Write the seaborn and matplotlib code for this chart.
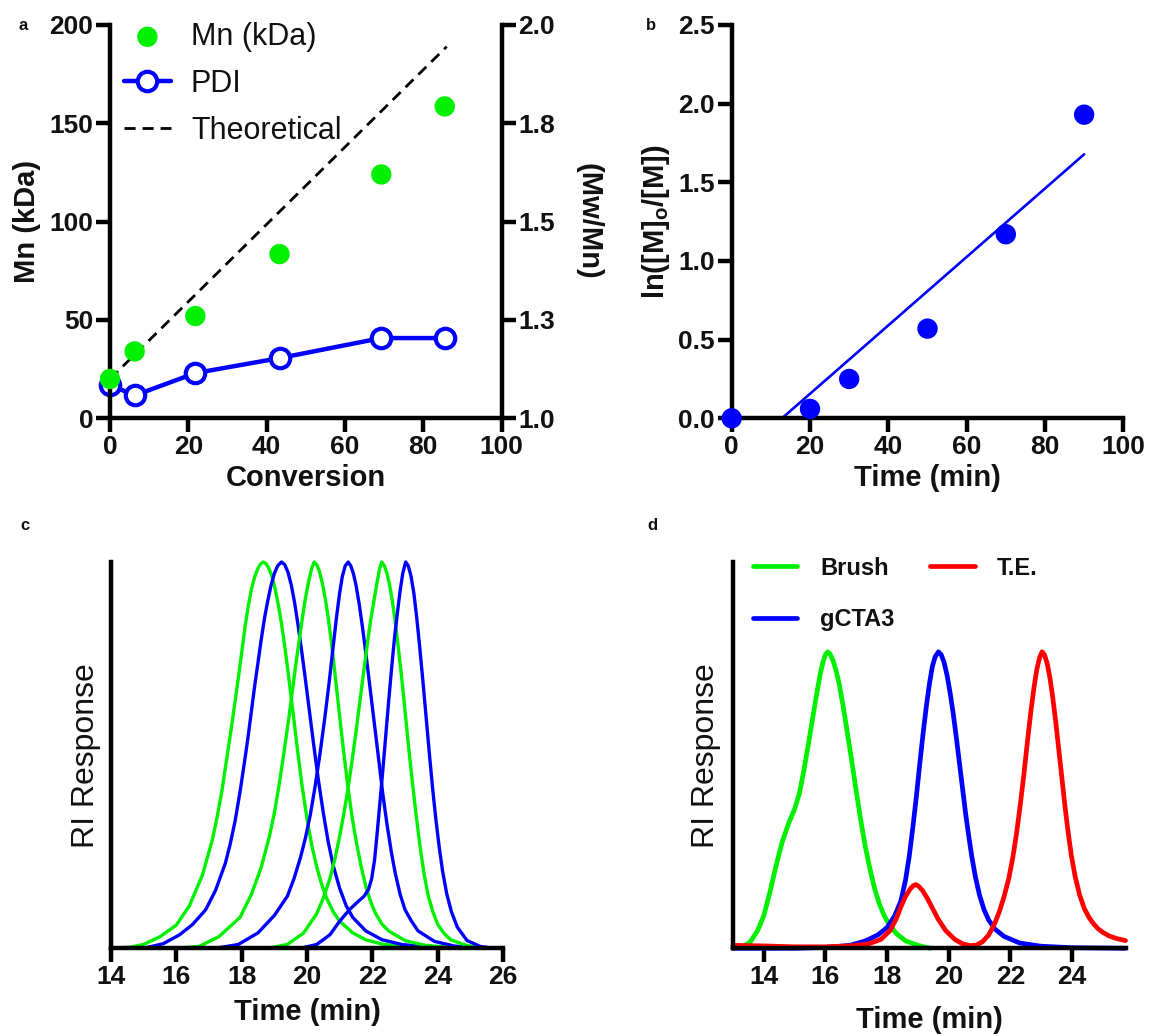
import numpy as np
import pandas as pd
import matplotlib
matplotlib.use("Agg")
import matplotlib.pyplot as plt
import seaborn as sns

# ---------------- data ----------------
# panel a
conversion = [0, 6.3, 21.8, 43.3, 69.3, 85.5]
mn_kda = [20, 34, 52, 83.5, 124, 158.6]
pdi = [1.085, 1.058, 1.115, 1.153, 1.204, 1.204]
theo_conversion = [0, 86]
theo_mn = [20, 189]
mn_ticks = [0, 50, 100, 150, 200]
pdi_ticks = [1.0, 1.25, 1.5, 1.75, 2.0]
pdi_ticklabels = ["1.0", "1.3", "1.5", "1.8", "2.0"]
conv_ticks = [0, 20, 40, 60, 80, 100]

# panel b
kin_time = [0, 20, 30, 50, 70, 90]
ln_m0_m = [0, 0.06, 0.25, 0.57, 1.17, 1.93]
lnm_ticks = [0.0, 0.5, 1.0, 1.5, 2.0, 2.5]

# panel c (GPC traces, normalised RI response)
c_g1_t = [14.0, 14.6, 15.0, 15.5, 16.0, 16.4, 16.8, 17.1, 17.25, 17.4, 17.55, 17.7, 17.85, 18.0, 18.1,
          18.2, 18.3, 18.4, 18.5, 18.58, 18.66, 18.74, 18.82, 18.92, 19.02, 19.12, 19.22, 19.33, 19.45,
          19.58, 19.7, 19.85, 20.0, 20.15, 20.3, 20.45, 20.6, 20.8, 21.0, 21.4, 21.8, 22.3, 22.8, 23.5,
          24.3, 26.0]
c_g1_v = [0.0, 0.003, 0.01, 0.03, 0.06, 0.11, 0.19, 0.28, 0.34, 0.41, 0.495, 0.58, 0.67, 0.765, 0.83,
          0.885, 0.93, 0.962, 0.984, 0.995, 1.0, 0.996, 0.986, 0.965, 0.932, 0.89, 0.84, 0.775, 0.695,
          0.605, 0.52, 0.42, 0.335, 0.265, 0.21, 0.165, 0.13, 0.095, 0.07, 0.04, 0.022, 0.011, 0.005, 0.002,
          0.0, 0.0]
c_b2_t = [14.0, 15.0, 15.6, 16.1, 16.5, 16.9, 17.2, 17.5, 17.65, 17.8, 17.95, 18.1, 18.2, 18.3, 18.4,
          18.5, 18.6, 18.7, 18.8, 18.9, 19.0, 19.1, 19.22, 19.32, 19.42, 19.52, 19.62, 19.72, 19.82, 19.93,
          20.05, 20.2, 20.35, 20.5, 20.65, 20.8, 21.0, 21.2, 21.4, 21.8, 22.3, 22.9, 23.6, 24.5, 26.0]
c_b2_v = [0.0, 0.0, 0.012, 0.035, 0.062, 0.10, 0.15, 0.22, 0.27, 0.33, 0.405, 0.49, 0.55, 0.615, 0.68,
          0.74, 0.80, 0.855, 0.90, 0.94, 0.97, 0.99, 1.0, 0.993, 0.973, 0.94, 0.895, 0.84, 0.78, 0.71,
          0.63, 0.53, 0.435, 0.35, 0.275, 0.215, 0.155, 0.11, 0.08, 0.045, 0.022, 0.01, 0.004, 0.0, 0.0]
c_g3_t = [14.0, 16.0, 16.7, 17.3, 17.95, 18.3, 18.6, 18.85, 19.0, 19.15, 19.3, 19.45, 19.55, 19.65,
          19.75, 19.85, 19.95, 20.05, 20.14, 20.22, 20.3, 20.38, 20.47, 20.56, 20.65, 20.75, 20.87, 21.0,
          21.12, 21.25, 21.38, 21.5, 21.65, 21.8, 21.95, 22.1, 22.3, 22.5, 23.0, 23.6, 24.4, 26.0]
c_g3_v = [0.0, 0.0, 0.005, 0.03, 0.08, 0.14, 0.21, 0.29, 0.35, 0.425, 0.51, 0.60, 0.665, 0.73,
          0.79, 0.85, 0.905, 0.95, 0.982, 1.0, 0.993, 0.976, 0.945, 0.905, 0.855, 0.79, 0.70, 0.60,
          0.51, 0.42, 0.34, 0.28, 0.215, 0.16, 0.12, 0.09, 0.062, 0.045, 0.02, 0.008, 0.002, 0.0]
c_b4_t = [14.0, 17.2, 17.9, 18.5, 19.0, 19.4, 19.6, 19.8, 19.95, 20.1, 20.25, 20.4, 20.55, 20.68, 20.8,
          20.9, 21.0, 21.08, 21.17, 21.26, 21.34, 21.42, 21.5, 21.6, 21.7, 21.8, 21.9, 22.0, 22.1, 22.2,
          22.32, 22.45, 22.58, 22.7, 22.85, 23.0, 23.2, 23.4, 23.9, 24.5, 25.2, 26.0]
c_b4_v = [0.0, 0.0, 0.01, 0.04, 0.085, 0.135, 0.18, 0.235, 0.285, 0.345, 0.42, 0.505, 0.60, 0.69, 0.78,
          0.855, 0.92, 0.962, 0.99, 1.0, 0.99, 0.97, 0.94, 0.89, 0.83, 0.765, 0.695, 0.625, 0.555, 0.485,
          0.40, 0.32, 0.25, 0.195, 0.14, 0.10, 0.07, 0.045, 0.018, 0.006, 0.0, 0.0]
c_g5_t = [14.0, 18.8, 19.4, 19.9, 20.3, 20.5, 20.7, 20.85, 21.0, 21.12, 21.25, 21.37, 21.5, 21.62, 21.75,
          21.85, 21.95, 22.05, 22.14, 22.22, 22.29, 22.37, 22.45, 22.53, 22.62, 22.71, 22.8, 22.9, 23.0,
          23.1, 23.2, 23.32, 23.45, 23.58, 23.7, 23.85, 24.0, 24.2, 24.4, 24.9, 25.5, 26.0]
c_g5_v = [0.0, 0.0, 0.01, 0.04, 0.09, 0.13, 0.18, 0.23, 0.29, 0.345, 0.41, 0.48, 0.56, 0.64, 0.725,
          0.79, 0.85, 0.9, 0.945, 0.982, 1.0, 0.99, 0.97, 0.94, 0.895, 0.84, 0.775, 0.70, 0.615,
          0.53, 0.45, 0.36, 0.27, 0.195, 0.14, 0.095, 0.062, 0.038, 0.022, 0.007, 0.0, 0.0]
c_b6_t = [14.0, 19.8, 20.3, 20.7, 21.0, 21.3, 21.55, 21.75, 21.88, 21.98, 22.07, 22.15, 22.23, 22.32,
          22.41, 22.5, 22.59, 22.68, 22.77, 22.85, 22.93, 23.02, 23.1, 23.18, 23.27, 23.36, 23.45, 23.55,
          23.65, 23.75, 23.85, 23.95, 24.05, 24.15, 24.28, 24.42, 24.6, 24.9, 25.3, 25.7, 26.0]
c_b6_v = [0.0, 0.0, 0.01, 0.035, 0.07, 0.10, 0.12, 0.135, 0.152, 0.18, 0.23, 0.30, 0.375, 0.46,
          0.55, 0.64, 0.725, 0.805, 0.87, 0.925, 0.97, 1.0, 0.99, 0.965, 0.92, 0.855, 0.78, 0.69,
          0.595, 0.50, 0.41, 0.33, 0.26, 0.20, 0.14, 0.095, 0.055, 0.02, 0.005, 0.0, 0.0]
c_ticks = [14, 16, 18, 20, 22, 24, 26]

# panel d
brush_t = [13.0, 13.3, 13.55, 13.8, 14.0, 14.2, 14.4, 14.6, 14.8, 15.0, 15.15, 15.3, 15.45, 15.6, 15.72,
           15.83, 15.92, 16.0, 16.07, 16.15, 16.25, 16.35, 16.45, 16.57, 16.7, 16.85, 17.0, 17.15, 17.3,
           17.45, 17.6, 17.75, 17.9, 18.05, 18.3, 18.6, 19.0, 19.4]
brush_v = [0.0, 0.005, 0.02, 0.06, 0.11, 0.19, 0.28, 0.36, 0.42, 0.47, 0.52, 0.60, 0.69, 0.785, 0.86,
           0.925, 0.965, 0.99, 1.0, 0.993, 0.97, 0.935, 0.89, 0.82, 0.735, 0.635, 0.53, 0.43, 0.34,
           0.265, 0.20, 0.15, 0.112, 0.083, 0.05, 0.025, 0.01, 0.0]
gcta3_t = [13.0, 15.0, 16.0, 16.8, 17.3, 17.7, 18.0, 18.25, 18.45, 18.6, 18.72, 18.84, 18.95, 19.06, 19.17,
           19.28, 19.38, 19.47, 19.56, 19.67, 19.76, 19.85, 19.95, 20.05, 20.15, 20.25, 20.35, 20.45, 20.55,
           20.65, 20.75, 20.87, 21.0, 21.15, 21.3, 21.5, 21.8, 22.3, 23.0, 24.0, 25.74]
gcta3_v = [0.0, 0.0, 0.003, 0.01, 0.025, 0.045, 0.07, 0.11, 0.16, 0.23, 0.31, 0.41, 0.51, 0.62, 0.725,
           0.82, 0.895, 0.95, 0.983, 1.0, 0.99, 0.965, 0.92, 0.86, 0.79, 0.71, 0.625, 0.54, 0.455,
           0.38, 0.31, 0.24, 0.18, 0.13, 0.095, 0.065, 0.04, 0.018, 0.007, 0.002, 0.0]
te_t = [13.0, 14.0, 15.0, 16.0, 16.8, 17.4, 17.8, 18.1, 18.3, 18.45, 18.6, 18.75, 18.85, 18.93, 19.02,
        19.15, 19.3, 19.45, 19.65, 19.9, 20.2, 20.45, 20.7, 20.9, 21.1, 21.3, 21.5, 21.65, 21.8, 21.95,
        22.08, 22.2, 22.32, 22.44, 22.56, 22.67, 22.77, 22.86, 22.95, 23.03, 23.11, 23.2, 23.29, 23.38,
        23.48, 23.58, 23.68, 23.78, 23.88, 23.98, 24.1, 24.25, 24.4, 24.55, 24.7, 24.85, 25.0, 25.2,
        25.45, 25.74]
te_v = [0.01, 0.008, 0.005, 0.005, 0.008, 0.015, 0.03, 0.06, 0.10, 0.14, 0.175, 0.20, 0.211, 0.215, 0.21,
        0.195, 0.17, 0.14, 0.10, 0.06, 0.03, 0.015, 0.009, 0.011, 0.022, 0.045, 0.085, 0.125, 0.175, 0.235,
        0.305, 0.385, 0.48, 0.585, 0.70, 0.80, 0.88, 0.94, 0.98, 1.0, 0.99, 0.96, 0.91, 0.845,
        0.76, 0.665, 0.57, 0.475, 0.39, 0.315, 0.245, 0.18, 0.135, 0.105, 0.083, 0.066, 0.054, 0.042,
        0.033, 0.026]
d_ticks = [14, 16, 18, 20, 22, 24]

# ---------------- style ----------------
GREEN = "#00F000"
BLUE = "#0000FF"
RED = "#FF0000"
INK = "#111111"

sns.set_style("ticks")
plt.rcParams["font.family"] = ["Liberation Sans", "DejaVu Sans"]
plt.rcParams["font.weight"] = "bold"
plt.rcParams["axes.labelweight"] = "bold"
plt.rcParams["mathtext.fontset"] = "custom"
plt.rcParams["mathtext.rm"] = "Liberation Sans:bold"
plt.rcParams["mathtext.default"] = "rm"
plt.rcParams["axes.linewidth"] = 3.2
plt.rcParams["axes.edgecolor"] = "black"
plt.rcParams["text.color"] = INK
plt.rcParams["axes.labelcolor"] = INK

TICK_FS = 19
LAB_FS = 21

fig = plt.figure(figsize=(11.5, 10.36), dpi=100)
W, H = 1150.0, 1036.0


def px_axes(left, top, right, bottom):
    return fig.add_axes([left / W, 1 - bottom / H, (right - left) / W, (bottom - top) / H])


def style_ticks(ax):
    ax.tick_params(axis="both", which="major", direction="out", length=10, width=3.2,
                   labelsize=TICK_FS, pad=2, colors="black", labelcolor=INK)
    for lab in ax.get_xticklabels() + ax.get_yticklabels():
        lab.set_fontweight("bold")


ax_a = px_axes(110, 25, 501.5, 418.3)
ax_b = px_axes(731.7, 25, 1123.3, 418.3)
ax_c = px_axes(111, 562, 503, 948.3)
ax_d = px_axes(733, 562, 1125.5, 948.3)

# ---------------- panel a ----------------
ax_a2 = ax_a.twinx()
ax_a2.set_position(ax_a.get_position())

sns.lineplot(x=conversion, y=pdi, ax=ax_a2, color=BLUE, linewidth=3.2, marker="o",
             markersize=14, markerfacecolor="white", markeredgecolor=BLUE, markeredgewidth=3,
             clip_on=False, zorder=3, label="PDI", estimator=None, sort=False)
sns.lineplot(x=theo_conversion, y=theo_mn, ax=ax_a, color="black", linewidth=2.0,
             linestyle=(0, (4, 2.5)), zorder=2, label="Theoretical", estimator=None)
sns.scatterplot(x=conversion, y=mn_kda, ax=ax_a, color=GREEN, s=215, edgecolor="none",
                linewidth=0, clip_on=False, zorder=4, label="Mn (kDa)")

ax_a.set_zorder(ax_a2.get_zorder() + 1)
ax_a.patch.set_visible(False)

ax_a.set_xlim(0, 100)
ax_a.set_ylim(0, 200)
ax_a.set_xticks(conv_ticks)
ax_a.set_yticks(mn_ticks)
ax_a2.set_ylim(1.0, 2.0)
ax_a2.set_yticks(pdi_ticks)
ax_a2.set_yticklabels(pdi_ticklabels)
ax_a.spines["top"].set_visible(False)
ax_a.spines["right"].set_visible(False)
for sp in ["top", "left", "bottom"]:
    ax_a2.spines[sp].set_visible(False)
style_ticks(ax_a)
style_ticks(ax_a2)

ax_a.set_xlabel("Conversion", fontsize=LAB_FS, fontweight="bold")
ax_a.xaxis.set_label_coords(0.5, -0.152)
ax_a.xaxis.label.set_va("center")
ax_a.set_ylabel("Mn (kDa)", fontsize=LAB_FS, fontweight="bold")
ax_a.yaxis.set_label_coords(-0.212, 0.5)
ax_a.yaxis.label.set_va("center")
ax_a2.set_ylabel("(Mw/Mn)", fontsize=LAB_FS, fontweight="bold", rotation=270)
ax_a2.yaxis.set_label_coords(1.221, 0.5)
ax_a2.yaxis.label.set_va("center")

for a in (ax_a, ax_a2):
    if a.get_legend() is not None:
        a.get_legend().remove()
h1, l1 = ax_a.get_legend_handles_labels()
h2, l2 = ax_a2.get_legend_handles_labels()
hd = dict(zip(l1 + l2, h1 + h2))
order = ["Mn (kDa)", "PDI", "Theoretical"]
ax_a.legend([hd[k] for k in order], order, loc="upper left",
            bbox_to_anchor=(0.035, 1.008), frameon=False, borderpad=0, borderaxespad=0,
            handlelength=1.55, handletextpad=0.65, labelspacing=0.56,
            prop={"family": ["Liberation Sans", "DejaVu Sans"], "weight": "normal", "size": 22})

# ---------------- panel b ----------------
slope, intercept = np.polyfit(kin_time, ln_m0_m, 1)
fit_x = np.array([-intercept / slope, max(kin_time)])
fit_y = slope * fit_x + intercept
sns.lineplot(x=fit_x, y=fit_y, ax=ax_b, color=BLUE, linewidth=1.9, estimator=None)
sns.scatterplot(x=kin_time, y=ln_m0_m, ax=ax_b, color=BLUE, s=215, edgecolor="none",
                linewidth=0, clip_on=False, zorder=4)
ax_b.set_xlim(0, 100)
ax_b.set_ylim(0, 2.5)
ax_b.set_xticks(conv_ticks)
ax_b.set_yticks(lnm_ticks)
sns.despine(ax=ax_b)
style_ticks(ax_b)
ax_b.set_xlabel("Time (min)", fontsize=LAB_FS, fontweight="bold")
ax_b.xaxis.set_label_coords(0.5, -0.152)
ax_b.xaxis.label.set_va("center")
ax_b.set_ylabel(r"ln([M]$_{\mathrm{o}}$/[M])", fontsize=LAB_FS, fontweight="bold")
ax_b.yaxis.set_label_coords(-0.193, 0.5)
ax_b.yaxis.label.set_va("center")

# ---------------- panel c ----------------
c_curves = [(c_g1_t, c_g1_v, GREEN), (c_b2_t, c_b2_v, BLUE), (c_g3_t, c_g3_v, GREEN),
            (c_b4_t, c_b4_v, BLUE), (c_g5_t, c_g5_v, GREEN), (c_b6_t, c_b6_v, BLUE)]
for t, v, col in c_curves:
    sns.lineplot(x=t, y=v, ax=ax_c, color=col, linewidth=2.4, estimator=None, sort=False,
                 clip_on=False)
ax_c.set_xlim(14, 26)
ax_c.set_ylim(0, 1.0)
ax_c.set_xticks(c_ticks)
ax_c.set_yticks([])
sns.despine(ax=ax_c)
style_ticks(ax_c)
ax_c.set_xlabel("Time (min)", fontsize=LAB_FS, fontweight="bold")
ax_c.xaxis.set_label_coords(0.5, -0.165)
ax_c.xaxis.label.set_va("center")
ax_c.set_ylabel("RI Response", fontsize=23, fontweight="normal")
ax_c.yaxis.set_label_coords(-0.064, 0.5)
ax_c.yaxis.label.set_va("center")

# ---------------- panel d ----------------
for t, v, col, lab in [(brush_t, brush_v, GREEN, "Brush"), (gcta3_t, gcta3_v, BLUE, "gCTA3"),
                       (te_t, te_v, RED, "T.E.")]:
    sns.lineplot(x=t, y=v, ax=ax_d, color=col, linewidth=3.4, estimator=None, sort=False,
                 clip_on=False, label=lab)
ax_d.set_xlim(13.0, 25.74)
ax_d.set_ylim(0, 1.303)
ax_d.set_xticks(d_ticks)
ax_d.set_yticks([])
sns.despine(ax=ax_d)
style_ticks(ax_d)
ax_d.set_xlabel("Time (min)", fontsize=LAB_FS, fontweight="bold")
ax_d.xaxis.set_label_coords(0.5, -0.185)
ax_d.xaxis.label.set_va("center")
ax_d.set_ylabel("RI Response", fontsize=23, fontweight="normal")
ax_d.yaxis.set_label_coords(-0.070, 0.5)
ax_d.yaxis.label.set_va("center")
if ax_d.get_legend() is not None:
    ax_d.get_legend().remove()
hd_, ld_ = ax_d.get_legend_handles_labels()
ax_d.legend(hd_, ld_, ncol=2, loc="upper left", bbox_to_anchor=(0.05, 1.014), frameon=False,
            borderpad=0, borderaxespad=0, handlelength=1.9, handletextpad=0.95,
            columnspacing=1.5, labelspacing=1.21,
            prop={"family": ["Liberation Sans", "DejaVu Sans"], "weight": "bold", "size": 17})

# ---------------- panel letters ----------------
for letter, (x, y) in {"a": (23, 25), "b": (651, 25), "c": (25, 525), "d": (652, 525)}.items():
    fig.text(x / W, 1 - y / H, letter, fontsize=12, fontweight="bold", ha="center", va="center")

fig.savefig("out.png", dpi=100)
